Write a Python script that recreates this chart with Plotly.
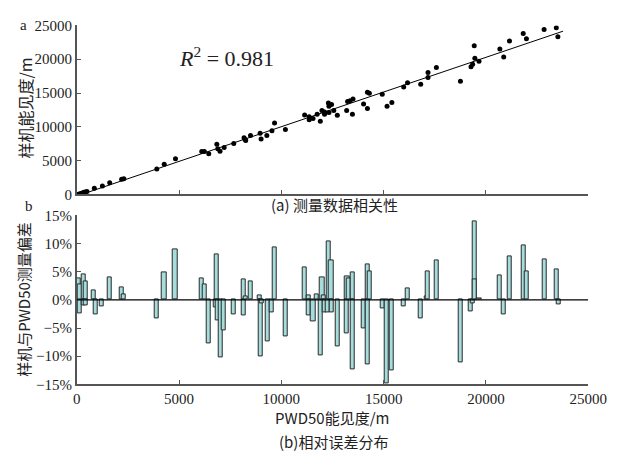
import numpy as np
import plotly.graph_objects as go

# ---- (a) scatter data: PWD50 visibility vs prototype visibility (m)
pwd_x = [80, 150, 200, 280, 350, 420, 500, 860, 1255, 1612, 2195, 2303, 3915, 4277, 4827,
         6110, 6237, 6453, 6848, 6895, 7003, 7205, 7675, 8178, 8225, 8258, 8493, 8963, 9010,
         9292, 9541, 9668, 10199, 11139, 11360, 11360, 11548, 11750, 11905, 11985, 12112,
         12112, 12300, 12328, 12455, 12328, 12563, 12737, 13193, 13240, 13362, 13503, 13475,
         14020, 14208, 14208, 14302, 14932, 15167, 15402, 15980, 16168, 16812, 17169, 17169,
         17578, 18753, 19270, 19348, 19427, 19458, 19660, 20680, 20868, 21150, 21822, 21979,
         22842, 23438, 23516]
proto_y = [30, 60, 120, 200, 300, 350, 420, 900, 1243, 1714, 2243, 2329, 3757, 4471, 5286,
           6329, 6329, 6000, 7429, 6757, 6386, 6957, 7529, 8386, 8143, 7957, 8714, 9043, 8186,
           8714, 9429, 10571, 9614, 11757, 11471, 11043, 11243, 11857, 10814, 12429, 12186,
           11857, 13529, 13043, 13286, 12100, 12429, 11714, 12429, 13757, 13857, 14100, 11857,
           13386, 12714, 15100, 14957, 14814, 13043, 13614, 15900, 16529, 16286, 18043, 17286,
           18757, 16757, 18900, 19243, 22000, 20143, 19714, 21529, 20329, 22714, 23814, 23043,
           24386, 24671, 23329]
r2_text = "0.981"

# ---- (b) relative error bars
err_x = [40, 70, 110, 140, 170, 320, 350, 440, 460, 824, 918, 1215, 1610, 2189, 2297, 3898,
         4275, 4812, 6111, 6252, 6441, 6803, 6850, 6897, 7038, 7194, 7665, 8168, 8183, 8263,
         8484, 8936, 8983, 9030, 9313, 9548, 9675, 10207, 11149, 11337, 11356, 11558, 11746,
         11935, 11996, 12090, 12123, 12326, 12264, 12438, 12450, 12749, 13220, 13206, 13314,
         13503, 13510, 14039, 14227, 14235, 14322, 14948, 15169, 15386, 15984, 16172, 16798,
         17090, 17175, 17584, 18747, 19265, 19341, 19435, 19467, 19670, 20692, 20880, 21163,
         21855, 22010, 22890, 23455, 23549]
err_pct = [1.5, -2.2, 3.9, -2.4, 2.8, 4.6, -0.9, 3.2, -1.0, 1.7, -2.65, -1.1, 4.0, 2.25, 1.0,
           -3.35, 4.85, 9.0, 3.9, 2.8, -7.7, -1.4, 8.1, -3.6, -10.2, -5.4, -2.65, 3.6, -2.7,
           0.6, 3.3, 0.75, -10.0, -0.7, -7.3, -2.25, 9.3, -6.5, 5.8, 0.85, -2.8, -3.8, 0.9,
           -9.9, 4.0, 0.8, -2.3, 10.4, -2.3, 7.0, -2.3, -8.3, 4.1, -5.9, 3.9, 4.85, -12.3,
           -5.1, 6.3, -11.4, 5.0, -1.5, -14.9, -12.5, -1.1, 2.1, -3.3, 0.7, 5.1, 7.0, -11.1,
           -2.1, -0.7, 13.9, 3.7, 0.35, 4.4, -2.5, 7.8, 9.6, 5.1, 7.2, 5.5, -0.75]

x_ticks = [0, 5000, 10000, 15000, 20000, 25000]
x_labels = ["0", "5000", "10000", "15000", "20000", "25000"]
ya_ticks = [0, 5000, 10000, 15000, 20000, 25000]
ya_labels = ["0", "5000", "10000", "15000", "20000", "25000"]
yb_ticks = [-15, -10, -5, 0, 5, 10, 15]
yb_labels = ["−15%", "−10%", "−5%", "0%", "5%", "10%", "15%"]

SERIF = "Liberation Serif"
CJK = "Noto Sans CJK SC"

# regression line from data
k, b = np.polyfit(pwd_x, proto_y, 1)
fit_x = np.array([0, 23770])
fit_y = k * fit_x + b

fig = go.Figure()
fig.add_trace(go.Scatter(x=fit_x, y=fit_y, mode="lines",
                         line=dict(color="black", width=1), xaxis="x", yaxis="y",
                         showlegend=False, hoverinfo="skip"))
fig.add_trace(go.Scatter(x=pwd_x, y=proto_y, mode="markers",
                         marker=dict(color="black", size=5), xaxis="x", yaxis="y",
                         showlegend=False))
fig.add_trace(go.Bar(x=err_x, y=err_pct, width=200, xaxis="x2", yaxis="y2",
                     marker=dict(color="#a6dcdc", line=dict(color="#2a2a2a", width=1)),
                     showlegend=False))

xd = [0.1206, 0.9689]
axis_common = dict(showgrid=False, zeroline=False, showline=True, linecolor="#555",
                   linewidth=1.5, ticks="inside", ticklen=5, tickcolor="#555",
                   tickmode="array",
                   tickfont=dict(family=SERIF, size=15, color="#222"))

fig.update_layout(
    width=626, height=463, margin=dict(l=0, r=0, t=0, b=0),
    plot_bgcolor="white", paper_bgcolor="white", bargap=0,
    font=dict(family=SERIF),
    xaxis=dict(domain=xd, range=[0, 25000], tickvals=x_ticks, ticktext=x_labels,
               showticklabels=False, anchor="y", **axis_common),
    yaxis=dict(domain=[0.583, 0.961], range=[0, 25000], tickvals=ya_ticks,
               ticktext=ya_labels, anchor="x", **axis_common),
    xaxis2=dict(domain=xd, range=[0, 25000], tickvals=x_ticks, ticktext=x_labels,
                anchor="y2", **axis_common),
    yaxis2=dict(domain=[0.158, 0.536], range=[-15, 15], tickvals=yb_ticks,
                ticktext=yb_labels, anchor="x2", **axis_common),
    shapes=[dict(type="line", xref="x2", yref="y2", x0=0, x1=25000, y0=0, y1=0,
                 line=dict(color="black", width=1.2), layer="above")],
)

def txt(x, y, s, size, family=CJK, angle=0, **kw):
    fig.add_annotation(x=x, y=y, xref="paper", yref="paper", text=s, showarrow=False,
                       font=dict(family=family, size=size, color="#222"), textangle=angle,
                       xanchor="center", yanchor="middle", **kw)

P = lambda px: px / 626
Q = lambda py: 1 - py / 463

txt(P(20), Q(18), "a", 15, family=SERIF)
txt(P(26), Q(205), "b", 15, family=SERIF)
txt(P(231), Q(51), "<i>R</i><sup>2</sup> = " + r2_text, 22, family=SERIF)
txt(P(343), Q(204), "(a) 测量数据相关性", 15)
txt(P(22), Q(104), "样机能见度/m", 16, angle=-90)
txt(P(20), Q(302), "样机与PWD50测量偏差", 15, angle=-90)
txt(P(341), Q(424), "PWD50能见度/m", 15)
txt(P(342), Q(449), "(b)相对误差分布", 15)

fig.write_html("out.html")
